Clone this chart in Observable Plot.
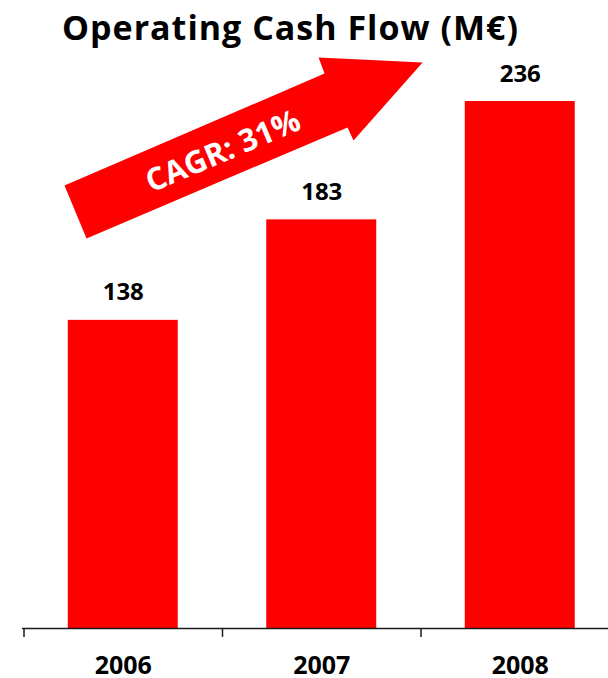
<!DOCTYPE html>
<html>
<head>
<meta charset="utf-8">
<script src="https://cdn.jsdelivr.net/npm/d3@7"></script>
<script src="https://cdn.jsdelivr.net/npm/@observablehq/plot@0.6"></script>
<style>
  html, body { margin: 0; padding: 0; background: #fff; }
  #title { height: 54px; line-height: 54px; font-family: "Open Sans", sans-serif; font-weight: 700; font-size: 34px; letter-spacing: 1px; color: #000; text-align: center; padding-right: 27px; white-space: nowrap; }
  #chart svg { display: block; }
</style>
</head>
<body>
<div id="title">Operating Cash Flow (M€)</div>
<div id="chart"></div>
<script>
const years = [2006, 2007, 2008];
const values = [138, 183, 236];
const tickBounds = [2005.5, 2006.5, 2007.5];
const cagrLabel = "CAGR: 31%";
// arrow outline in data space (year, M€)
const arrowX = [2005.704, 2007.014, 2006.984, 2007.508, 2007.160, 2007.130, 2005.815];
const arrowY = [198.4, 248.5, 255.7, 253.5, 218.5, 224.4, 174.7];
const labelPos = {x: 2006.503, y: 213.6};

const data = years.map((y, i) => ({year: y, value: values[i]}));
const arrow = arrowX.map((x, i) => ({x, y: arrowY[i]}));
const halfWidth = 0.277;

const chart = Plot.plot({
  width: 608,
  height: 624,
  marginLeft: 22,
  marginRight: 0,
  marginTop: 0,
  marginBottom: 0,
  style: {fontFamily: "'Open Sans', sans-serif", background: "#fff"},
  x: {type: "linear", domain: [2005.5, 2008.5], range: [23.5, 619], axis: null},
  y: {domain: [0, 250], range: [574, 15.75], axis: null},
  marks: [
    Plot.rectY(data, {x1: d => d.year - halfWidth, x2: d => d.year + halfWidth, y1: 0, y2: "value", fill: "#ff0000"}),
    Plot.ruleY([0], {stroke: "#1a1a1a", strokeWidth: 1.5}),
    Plot.ruleX(tickBounds, {x: d => d, y1: 0, y2: -4, stroke: "#1a1a1a", strokeWidth: 1.5}),
    Plot.text(years, {x: d => d, y: 0, text: d => String(d), dy: 28, lineAnchor: "top", fontSize: 25, fontWeight: "bold", fill: "#000"}),
    Plot.text(data, {x: "year", y: "value", text: d => String(d.value), dy: -20, lineAnchor: "bottom", fontSize: 24, fontWeight: "bold", fill: "#000"}),
    Plot.line(arrow, {x: "x", y: "y", fill: "#ff0000", stroke: "none", curve: "linear"}),
    Plot.text([labelPos], {x: "x", y: "y", text: () => cagrLabel, rotate: -23, fontSize: 31, fontWeight: "bold", fill: "#fff", textAnchor: "middle", lineAnchor: "middle"})
  ]
});
document.getElementById("chart").appendChild(chart);
</script>
</body>
</html>
